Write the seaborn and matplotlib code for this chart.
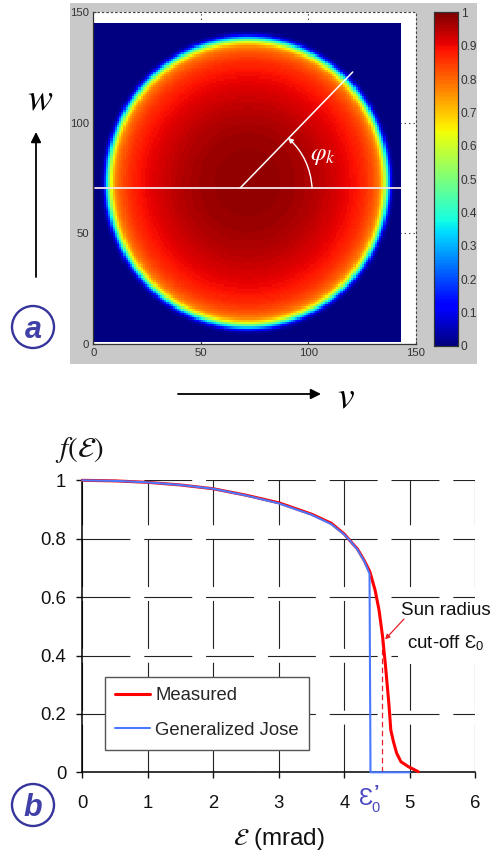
import numpy as np
import pandas as pd
import seaborn as sns
import matplotlib.pyplot as plt
from matplotlib.lines import Line2D
from matplotlib.patches import Rectangle, Ellipse

W, H = 492, 857

sun_radius = [0, 12, 22, 32, 42, 50, 55, 58, 60, 61.5, 62.5, 63.5, 64.5, 65.5, 66.5, 67.5, 69]
sun_level = [0.985, 0.98, 0.97, 0.95, 0.92, 0.89, 0.86, 0.83, 0.80, 0.765, 0.71, 0.62, 0.48, 0.32, 0.15, 0.04, 0.0]
sun_center = (71.8, 73)
cbar_ticks = [0, 0.1, 0.2, 0.3, 0.4, 0.5, 0.6, 0.7, 0.8, 0.9, 1]
cbar_labels = ['0', '0.1', '0.2', '0.3', '0.4', '0.5', '0.6', '0.7', '0.8', '0.9', '1']
img_ticks = [0, 50, 100, 150]

# panel b: curves
measured_x = [0, 0.5, 1, 1.5, 2, 2.5, 3, 3.5, 3.8, 4.0, 4.1, 4.2, 4.3, 4.39, 4.47, 4.53, 4.585,
              4.63, 4.68, 4.71, 4.75, 4.80, 4.865, 4.98, 5.13]
measured_y = [1, 0.998, 0.993, 0.984, 0.971, 0.949, 0.923, 0.884, 0.853, 0.816, 0.79, 0.765, 0.727, 0.687,
              0.624, 0.556, 0.464, 0.362, 0.236, 0.145, 0.105, 0.065, 0.036, 0.019, 0.002]
jose_x = [0, 0.5, 1, 1.5, 2, 2.5, 3, 3.5, 3.8, 4.0, 4.1, 4.2, 4.3, 4.385, 4.40, 5.0]
jose_y = [1, 0.998, 0.993, 0.984, 0.971, 0.948, 0.921, 0.882, 0.85, 0.814, 0.79, 0.763, 0.725, 0.68, 0.0, 0.0]
cutoff_x = [4.57, 4.57]
cutoff_y = [0, 0.47]


def add_axes_px(fig, left, top, right, bottom):
    return fig.add_axes([left / W, 1 - bottom / H, (right - left) / W, (bottom - top) / H])


def sun_image():
    rows, cols = np.mgrid[0:145, 0:143]
    dist = np.hypot(cols + 0.5 - sun_center[0], rows + 0.5 - sun_center[1])
    img = np.interp(dist, sun_radius, sun_level)
    img[0, :] = np.nan  # image starts one unit above the axis
    return img


sns.set_style('white')
plt.rcParams['font.family'] = ['Liberation Sans', 'DejaVu Sans']
plt.rcParams['mathtext.fontset'] = 'stix'
plt.rcParams['lines.scale_dashes'] = False

fig = plt.figure(figsize=(W / 100, H / 100), dpi=100, facecolor='white')

ax_bg = add_axes_px(fig, 0, 0, W, H)
ax_bg.set_xlim(0, W)
ax_bg.set_ylim(H, 0)
ax_bg.axis('off')
ax_bg.set_zorder(-1)
ax_bg.add_patch(Rectangle((70, 3), 407, 361, fc='#c9c9c9', ec='none'))

# panel a
ax_a = add_axes_px(fig, 93.3, 12.3, 415.7, 344)
cax = add_axes_px(fig, 434, 12.3, 458, 346)
sns.heatmap(sun_image(), ax=ax_a, cbar_ax=cax, cmap=plt.get_cmap('jet', 128), vmin=0, vmax=1,
            xticklabels=False, yticklabels=False)
ax_a.set_facecolor('white')
ax_a.set_xlim(0, 150)
ax_a.set_ylim(0, 150)
ax_a.set_xticks(img_ticks)
ax_a.set_yticks(img_ticks)
ax_a.set_xticklabels(img_ticks)
ax_a.set_yticklabels(img_ticks)
ax_a.tick_params(labelsize=8.2, colors='#333333', length=2, direction='in', pad=3, left=True, bottom=True,
                 labelleft=True, labelbottom=True)
ax_a.set_axisbelow(True)
ax_a.grid(True, color='#444444', linestyle=(0, (1, 2.2)), linewidth=0.8)
for side in ['top', 'right']:
    ax_a.spines[side].set_visible(True)
    ax_a.spines[side].set_linestyle((0, (1, 2.2)))
    ax_a.spines[side].set_color('#444444')
    ax_a.spines[side].set_linewidth(0.8)
for side in ['left', 'bottom']:
    ax_a.spines[side].set_visible(True)
    ax_a.spines[side].set_color('#333333')
    ax_a.spines[side].set_linewidth(0.9)

ax_a.plot([1, 143], [70.5, 70.5], color='#f4e8e8', lw=1.3)
ax_a.plot([68.3, 120.7], [70.5, 123], color='white', lw=1.1)
ax_a.annotate('', xy=(90.6, 93.2), xytext=(101.8, 70.5),
              arrowprops=dict(arrowstyle='-|>', color='white', lw=1.0, mutation_scale=7,
                              connectionstyle='arc3,rad=0.2', shrinkA=0, shrinkB=0))
ax_a.text(101, 85.5, r'$\varphi_k$', color='white', fontsize=18, ha='left', va='center')

cax.set_yticks(cbar_ticks)
cax.set_yticklabels(cbar_labels)
cax.tick_params(labelsize=8.6, colors='#333333', direction='in', left=True, right=True, length=3, width=0.8,
                pad=2, labelright=True, labelleft=False)
for spine in cax.spines.values():
    spine.set_visible(True)
    spine.set_color('#333333')
    spine.set_linewidth(0.8)

# panel b
ax_b = add_axes_px(fig, 82.3, 480.3, 475.3, 772.3)
measured = pd.DataFrame({'x': measured_x, 'y': measured_y})
jose = pd.DataFrame({'x': jose_x, 'y': jose_y})
sns.lineplot(data=measured, x='x', y='y', ax=ax_b, color='#ff0000', lw=2.2, estimator=None, sort=False, clip_on=False,
             zorder=3)
sns.lineplot(data=jose, x='x', y='y', ax=ax_b, color='#4a78ff', lw=1.5, estimator=None, sort=False, clip_on=False,
             zorder=4)
ax_b.plot(cutoff_x, cutoff_y, color='#e8202a', lw=0.9, linestyle=(0, (4, 2.5)), zorder=2)
ax_b.set_xlim(0, 6)
ax_b.set_ylim(0, 1)
ax_b.set_xticks(range(7))
ax_b.set_yticks([0, 0.2, 0.4, 0.6, 0.8, 1])
ax_b.set_yticklabels(['0', '0.2', '0.4', '0.6', '0.8', '1'])
ax_b.set_xlabel('')
ax_b.set_ylabel('')
ax_b.tick_params(labelsize=13.3, colors='#111111', direction='out', length=4.5, width=1, left=True, bottom=True)
ax_b.tick_params(axis='y', pad=7)
ax_b.tick_params(axis='x', pad=11.5)
ax_b.set_axisbelow(True)
ax_b.grid(True, color='#222222', lw=0.8, linestyle=(0, (34.5, 10)))
sns.despine(ax=ax_b, top=True, right=True)
for side in ['left', 'bottom']:
    ax_b.spines[side].set_color('black')
    ax_b.spines[side].set_linewidth(1.1)

handles = [Line2D([], [], color='#ff0000', lw=2.2), Line2D([], [], color='#4a78ff', lw=1.5)]
leg = ax_b.legend(handles, ['Measured', 'Generalized Jose'], loc='upper left',
                  bbox_to_anchor=((104.7 - 82.3) / 393, (772.3 - 676.7) / 292), borderaxespad=0,
                  fontsize=13.3, frameon=True, fancybox=False, framealpha=1, edgecolor='#555555',
                  labelspacing=0.95, handlelength=1.85, handletextpad=0.3, borderpad=0.58)
leg.get_frame().set_linewidth(1.0)
leg.set_zorder(5)

# text and arrows drawn in pixel coordinates
ax_top = add_axes_px(fig, 0, 0, W, H)
ax_top.set_xlim(0, W)
ax_top.set_ylim(H, 0)
ax_top.axis('off')
ax_top.patch.set_alpha(0)

ax_top.add_patch(Rectangle((398, 600), 94, 64, fc='white', ec='none'))
ax_top.text(445.5, 610.5, 'Sun radius', fontsize=13.5, ha='center', va='center', color='#111111')
ax_top.text(445.5, 643, 'cut-off Ɛ$_{\\mathregular{0}}$', fontsize=13.5, ha='center', va='center', color='#111111')
ax_top.annotate('', xy=(385, 639.5), xytext=(404, 619),
                arrowprops=dict(arrowstyle='-|>', color='#e8202a', lw=0.9, mutation_scale=7, shrinkA=0, shrinkB=0))

ax_top.text(365.7, 799, 'Ɛ', fontsize=17, ha='center', va='center', color='#4848c0')
ax_top.text(376, 808, '0', fontsize=10.5, ha='center', va='center', color='#4848c0')
ax_top.text(376.5, 793, '’', fontsize=14, weight='bold', ha='center', va='center', color='#4848c0')
ax_top.text(79, 450, r'$f(\mathcal{E})$', fontsize=21, ha='center', va='center', color='#111111')
ax_top.text(279, 839, r'$\mathcal{E}$ (mrad)', fontsize=17.5, ha='center', va='center', color='#111111')
ax_top.text(40.5, 99, r'$w$', fontsize=27, ha='center', va='center', color='black')
ax_top.text(346, 397, r'$v$', fontsize=27, ha='center', va='center', color='black')

ax_top.annotate('', xy=(36, 132), xytext=(36, 277),
                arrowprops=dict(arrowstyle='-|>', color='black', lw=1.3, mutation_scale=15, shrinkA=0, shrinkB=0))
ax_top.annotate('', xy=(321, 394), xytext=(178, 394),
                arrowprops=dict(arrowstyle='-|>', color='black', lw=1.3, mutation_scale=15, shrinkA=0, shrinkB=0))

for label, cy in [('a', 327), ('b', 805)]:
    ax_top.add_patch(Ellipse((33, cy), 42, 42, fc='white', ec='#35359c', lw=1.7))
    ax_top.text(33, cy, label, fontsize=22, style='italic', weight='bold', ha='center', va='center_baseline',
                color='#4040a8')

fig.savefig('out.png', dpi=100)
plt.close()
